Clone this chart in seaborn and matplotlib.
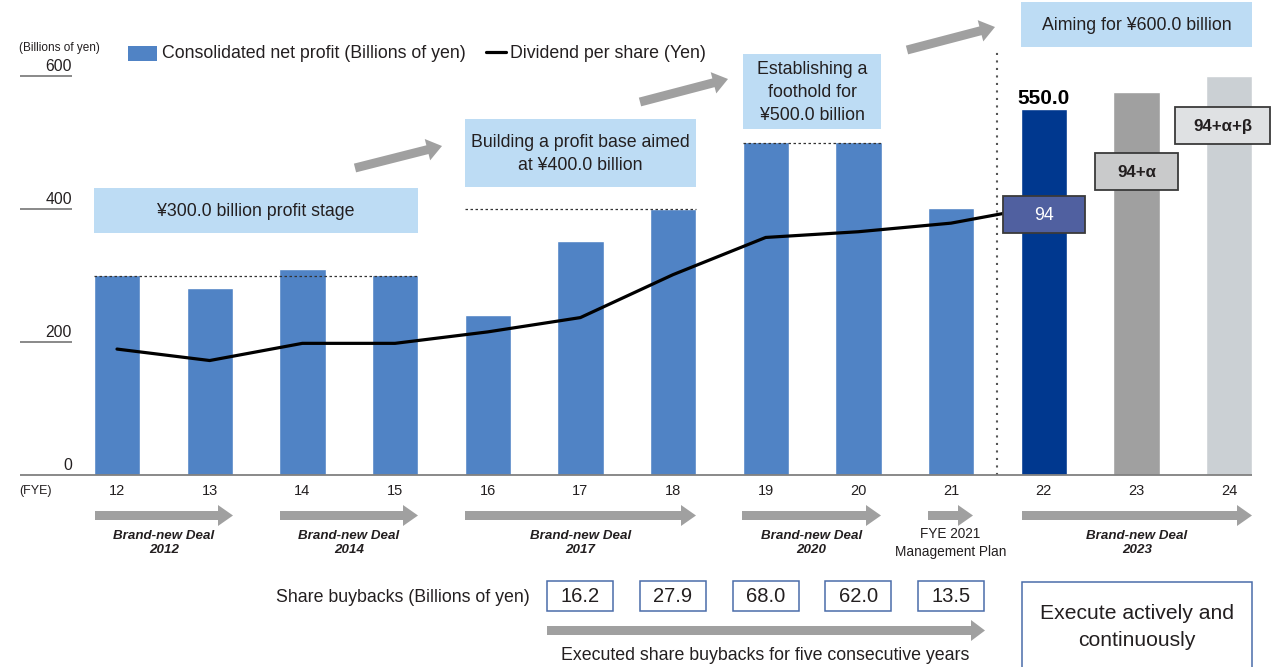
import numpy as np
import pandas as pd
import matplotlib
matplotlib.use("Agg")
import matplotlib.pyplot as plt
import seaborn as sns
from matplotlib.patches import Rectangle, FancyArrow

# ---------------- data ----------------
fye = ["12", "13", "14", "15", "16", "17", "18", "19", "20", "21", "22", "23", "24"]
net_profit = [301, 281, 310, 301, 240, 352, 400, 501, 501, 401, 550, 576, 600]
bar_colors = ["#5083C5"] * 10 + ["#00388F", "#A0A0A0", "#CBD0D4"]
dividend_fye = ["12", "13", "14", "15", "16", "17", "18", "19", "20", "21", "22"]
dividend = [44, 40, 46, 46, 50, 55, 70, 83, 85, 88, 94]
dividend_plan = ["94", "94+α", "94+α+β"]
y_ticks = [0, 200, 400, 600]
stage_levels = [300, 400, 500]
stage_spans = [("12", "15"), ("16", "18"), ("19", "20")]
stage_texts = ["¥300.0 billion profit stage",
               "Building a profit base aimed\nat ¥400.0 billion",
               "Establishing a\nfoothold for\n¥500.0 billion",
               "Aiming for ¥600.0 billion"]
plans = ["Brand-new Deal\n2012", "Brand-new Deal\n2014", "Brand-new Deal\n2017",
         "Brand-new Deal\n2020", "FYE 2021\nManagement Plan", "Brand-new Deal\n2023"]
buyback_fye = ["17", "18", "19", "20", "21"]
buybacks = [16.2, 27.9, 68.0, 62.0, 13.5]

# ---------------- style ----------------
sns.set_theme(style="white")
plt.rcParams["font.family"] = ["Liberation Sans", "DejaVu Sans"]
TXT = "#231F20"
plt.rcParams["text.color"] = TXT

W, H = 1271, 667
fig = plt.figure(figsize=(W / 100, H / 100), dpi=100)
ax = fig.add_axes([0, 0, 1, 1])

df = pd.DataFrame({"FYE": fye, "profit": net_profit})
sns.barplot(data=df, x="FYE", y="profit", hue="FYE",
            palette=dict(zip(fye, bar_colors)), width=0.5, saturation=1,
            legend=False, ax=ax)

ax2 = ax.twinx()
sns.lineplot(x=np.arange(len(dividend)), y=dividend, ax=ax2,
             color="black", lw=2.3)

# pixel layout: x index 0 at px 117, step 92.67 px; y 0 at px 475, 200 units = 133 px
XL = (-117 / 92.67, (W - 117) / 92.67)
ax.set_xlim(*XL)
ax.set_ylim(-(H - 475) * 200 / 133, 475 * 200 / 133)
ax2.set_xlim(*XL)
ax2.set_ylim(-(H - 475) / 2.862, 475 / 2.862)
ax.axis("off")
ax2.axis("off")

yt = ax.get_yaxis_transform()
# baseline and y ticks
ax.hlines(0, 20 / W, 1252 / W, transform=yt, color="#808080", lw=1.3, zorder=3)
for t in y_ticks:
    if t > 0:
        ax.hlines(t, 20 / W, 72 / W, transform=yt, color="#808080", lw=1.3)
    ax.text(72 / W, t + 3, str(t), transform=yt, ha="right", va="bottom",
            fontsize=11.3)

# stage dotted lines
for lvl, (a, b) in zip(stage_levels, stage_spans):
    ax.hlines(lvl, fye.index(a) - 0.25, fye.index(b) + 0.25,
              color="#333333", lw=0.9, linestyles=(0, (2, 2)), zorder=3)

# vertical dotted separator between actual and plan
ax.vlines(fye.index("21") + 0.5, 0, (475 - 50) * 200 / 133,
          color="#555555", lw=1.5, linestyles=(0, (1, 2.6)))

# 550.0 label
i22 = fye.index("22")
ax.annotate(f"{net_profit[i22]:.1f}", (i22, net_profit[i22]), xytext=(0, 1),
            textcoords="offset points", ha="center", va="bottom",
            fontsize=15, fontweight="bold", color="black")

# ---------------- decoration layer (pixel coords) ----------------
deco = fig.add_axes([0, 0, 1, 1], zorder=5)
deco.set_xlim(0, W)
deco.set_ylim(H, 0)
deco.axis("off")
GRAY = "#A0A0A0"
LB = "#BDDCF4"


def box(x0, y0, x1, y1, face, edge=None, lw=0.0):
    deco.add_patch(Rectangle((x0, y0), x1 - x0, y1 - y0, facecolor=face,
                             edgecolor=edge if edge else face, lw=lw))


def arrow(x0, y0, x1, y1, body=9, head=22, hl=15):
    deco.add_patch(FancyArrow(x0, y0, x1 - x0, y1 - y0, width=body,
                              head_width=head, head_length=hl,
                              length_includes_head=True, color=GRAY, lw=0))


def px(label):
    return 117 + fye.index(label) * 92.67


# legend
box(128, 46, 157, 61, bar_colors[0])
deco.text(162, 54, "Consolidated net profit (Billions of yen)", va="center",
          fontsize=12.8)
deco.plot([486, 506], [52, 52], color="black", lw=2.3)
deco.text(510, 54, "Dividend per share (Yen)", va="center", fontsize=12.8)
deco.text(19, 48, "(Billions of yen)", va="center", fontsize=8.5)

# stage boxes
stage_boxes = [(94, 188, 418, 233), (465, 119, 696, 187),
               (743, 54, 881, 129), (1021, 2, 1252, 47)]
for (x0, y0, x1, y1), t in zip(stage_boxes, stage_texts):
    box(x0, y0, x1, y1, LB)
    deco.text((x0 + x1) / 2, (y0 + y1) / 2 + 1, t, ha="center", va="center",
              fontsize=12.8, linespacing=1.5)

# diagonal arrows
arrow(355, 168, 442, 146)
arrow(640, 102, 728, 79)
arrow(907, 50, 995, 27)

# dividend plan boxes
plan_boxes = [((1003, 196, 1085, 233), "#5060A0", "white", "normal"),
              ((1095, 153, 1178, 190), "#C9CACB", TXT, "bold"),
              ((1175, 107, 1270, 144), "#DFE1E3", TXT, "bold")]
for ((x0, y0, x1, y1), fc, tc, fw), t in zip(plan_boxes, dividend_plan):
    box(x0, y0, x1, y1, fc, edge="#3A3A3A", lw=1.3)
    deco.text((x0 + x1) / 2, (y0 + y1) / 2 + 1, t, ha="center", va="center",
              fontsize=12.8 if fw == "normal" else 12.2, color=tc,
              fontweight=fw)

# FYE axis labels
deco.text(19, 491, "(FYE)", va="center", fontsize=9)
for f in fye:
    deco.text(px(f), 491, f, ha="center", va="center", fontsize=10.5)

# plan arrows
plan_arrows = [(95, 233), (280, 418), (465, 696), (742, 881), (928, 973),
               (1022, 1252)]
for (x0, x1), t in zip(plan_arrows, plans):
    arrow(x0, 515.5, x1, 515.5, body=9, head=21, hl=15)
    bold = t.startswith("Brand")
    deco.text((x0 + x1) / 2, 543, t,
              ha="center", va="center", fontsize=9.6 if bold else 9.8,
              fontweight="bold" if bold else "normal",
              fontstyle="italic" if bold else "normal", linespacing=1.3)

# share buybacks
deco.text(530, 597, "Share buybacks (Billions of yen)", ha="right",
          va="center", fontsize=12.8)
for f, v in zip(buyback_fye, buybacks):
    c = px(f)
    box(c - 33, 581, c + 33, 611, "white", edge="#4A6CAA", lw=1.1)
    deco.text(c, 597, f"{v:.1f}", ha="center", va="center", fontsize=14.5)
arrow(547, 630.5, 985, 630.5, body=9, head=21, hl=14)
deco.text(765, 656, "Executed share buybacks for five consecutive years",
          ha="center", va="center", fontsize=12.8)

box(1022, 582, 1252, 700, "white", edge="#4A6CAA", lw=1.1)
deco.text(1137, 627, "Execute actively and\ncontinuously", ha="center",
          va="center", fontsize=15.2, linespacing=1.5)

fig.savefig("out.png", dpi=100)
